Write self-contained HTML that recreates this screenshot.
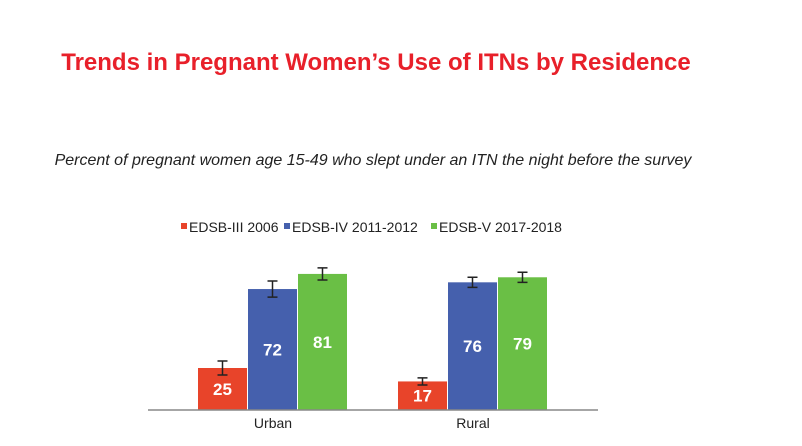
<!DOCTYPE html>
<html><head><meta charset="utf-8"><style>
body{margin:0;background:#fff;width:802px;height:441px;overflow:hidden;font-family:"Liberation Sans",sans-serif}
</style></head><body>
<svg width="802" height="441">
<text x="376" y="70" text-anchor="middle" font-size="24" font-weight="bold" fill="#e8202a">Trends in Pregnant Women’s Use of ITNs by Residence</text>
<text x="373" y="165" text-anchor="middle" font-size="16" font-style="italic" fill="#222">Percent of pregnant women age 15-49 who slept under an ITN the night before the survey</text>
<g id="legend"></g>
<g id="bars"></g>
<line x1="148" y1="410" x2="598" y2="410" stroke="#888" stroke-width="1.5"/>
</svg>
<script>
const categories=["Urban","Rural"];
const seriesNames=["EDSB-III 2006","EDSB-IV 2011-2012","EDSB-V 2017-2018"];
const s2006=[25,17];
const s2011=[72,76];
const s2017=[81,79];
const err2006=[4.2,2.1];
const err2011=[4.8,3];
const err2017=[3.6,3];
const series=[s2006,s2011,s2017], errs=[err2006,err2011,err2017];
const colors=["#e8442a","#4560ad","#6abf45"];
const NS="http://www.w3.org/2000/svg";
const base=410, k=1.68;
const y=v=>base-v*k;
const groupX=[198,398], bw=50;
const g=document.getElementById('bars');
function mk(t,a,p){const e=document.createElementNS(NS,t);for(const q in a)e.setAttribute(q,a[q]);p.appendChild(e);return e;}
categories.forEach((c,ci)=>{
  series.forEach((s,si)=>{
    const x=groupX[ci]+si*bw, v=s[ci];
    const r=mk('rect',{x:x,y:y(v),width:bw-1,height:base-y(v),fill:colors[si]},g);
    
    
    const cx=x+bw/2-0.5, e=errs[si][ci];
    const p=mk('path',{d:`M${cx-5} ${y(v+e)}H${cx+5}M${cx} ${y(v+e)}V${y(v-e)}M${cx-5} ${y(v-e)}H${cx+5}`,stroke:"#222","stroke-width":1.5,fill:"none"},g);
    
    
    const t=mk('text',{x:cx,y:(y(v)+base)/2+6,"text-anchor":"middle","font-size":17,"font-weight":"bold",fill:"#fff"},g);
    t.textContent=v;
    
    
  });
  const l=mk('text',{x:groupX[ci]+75,y:428,"text-anchor":"middle","font-size":14,fill:"#222"},g);
  l.textContent=c;
  
  
});
const lg=document.getElementById('legend');
const lx=[181,284,431];
seriesNames.forEach((n,i)=>{
  const sw=mk('rect',{x:lx[i],y:223,width:6,height:6,fill:colors[i]},lg);
  
  
  const t=mk('text',{x:lx[i]+8,y:232,"font-size":14,fill:"#222"},lg);
  t.textContent=n;
  
  
});
</script>
</body></html>
